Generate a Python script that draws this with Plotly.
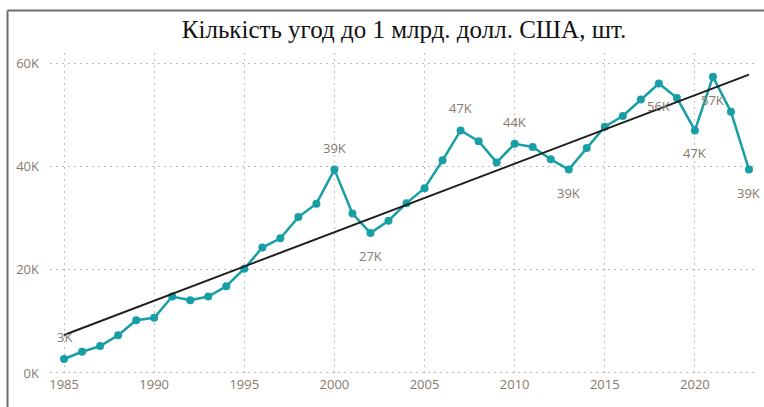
import numpy as np
import plotly.graph_objects as go

years = list(range(1985, 2024))
deals_k = [2.7, 4.1, 5.2, 7.3, 10.2, 10.7, 14.8, 14.1, 14.8, 16.8,
           20.2, 24.3, 26.1, 30.2, 32.8, 39.4, 30.9, 27.1, 29.5, 32.9,
           35.8, 41.2, 47.0, 44.9, 40.8, 44.4, 43.8, 41.4, 39.4, 43.6,
           47.7, 49.8, 53.0, 56.1, 53.3, 47.0, 57.4, 50.6, 39.4]
label_years = [1985, 2000, 2002, 2007, 2010, 2013, 2018, 2020, 2021, 2023]
label_above = [True, True, False, True, True, False, False, False, False, False]
y_ticks = [0, 20, 40, 60]
y_tick_text = ["0K", "20K", "40K", "60K"]
x_ticks = [1985, 1990, 1995, 2000, 2005, 2010, 2015, 2020]
title = "Кількість угод до 1 млрд. долл. США, шт."

# linear trend line (least squares)
coef = np.polyfit(years, deals_k, 1)
trend_x = [years[0], years[-1]]
trend_y = [float(np.polyval(coef, x)) for x in trend_x]

teal = "#179fa6"
txt = "#85796e"
font_ui = "Open Sans, Noto Sans, sans-serif"

fig = go.Figure()
fig.add_trace(go.Scatter(x=years, y=deals_k, mode="lines+markers",
                         line=dict(color=teal, width=2.5),
                         marker=dict(color=teal, size=8),
                         showlegend=False, hoverinfo="x+y"))
fig.add_trace(go.Scatter(x=trend_x, y=trend_y, mode="lines",
                         line=dict(color="#1e1e1e", width=2),
                         showlegend=False, hoverinfo="skip"))

for yr, above in zip(label_years, label_above):
    v = deals_k[years.index(yr)]
    fig.add_annotation(x=yr, y=v, text=f"{round(v)}K", showarrow=False,
                       yshift=22 if above else -23,
                       font=dict(family=font_ui, size=13, color=txt))

W, H = 764, 407
l, r, t, b = 50, 6, 53, 32
pw, ph = W - l - r, H - t - b
bx0 = (7.5 - l) / pw
by1 = (H - b - 10.5) / ph
fig.add_shape(type="line", xref="paper", yref="paper", x0=bx0, x1=(W + 5 - l) / pw,
              y0=by1, y1=by1, line=dict(color="#6e6e6e", width=2))
fig.add_shape(type="line", xref="paper", yref="paper", x0=bx0, x1=bx0,
              y0=by1, y1=-(b + 5) / ph, line=dict(color="#6e6e6e", width=2))

grid_dash = "1.5px,4.5px"
fig.update_layout(
    width=W, height=H,
    margin=dict(l=l, r=r, t=t, b=b),
    paper_bgcolor="white", plot_bgcolor="white",
    title=dict(text=title, x=0.5, xanchor="center", xref="paper", y=1 - 29 / H, yanchor="middle",
               font=dict(family="Liberation Serif, Times New Roman, serif", size=25, color="#111")),
    xaxis=dict(range=[1984.22, 2023.5], tickvals=x_ticks, showgrid=True,
               gridcolor="#bdbdbd", griddash=grid_dash, gridwidth=1, zeroline=False,
               showline=False, ticks="",
               tickfont=dict(family=font_ui, size=13, color=txt)),
    yaxis=dict(range=[-0.4, 62], tickvals=y_ticks, ticktext=y_tick_text, showgrid=True,
               gridcolor="#bdbdbd", griddash=grid_dash, gridwidth=1, zeroline=False,
               showline=False, ticks="", ticklabelstandoff=10,
               tickfont=dict(family=font_ui, size=13, color=txt)),
)

fig.write_html("out.html", config={"displayModeBar": False},
               post_script="document.body.style.margin='0px';")
